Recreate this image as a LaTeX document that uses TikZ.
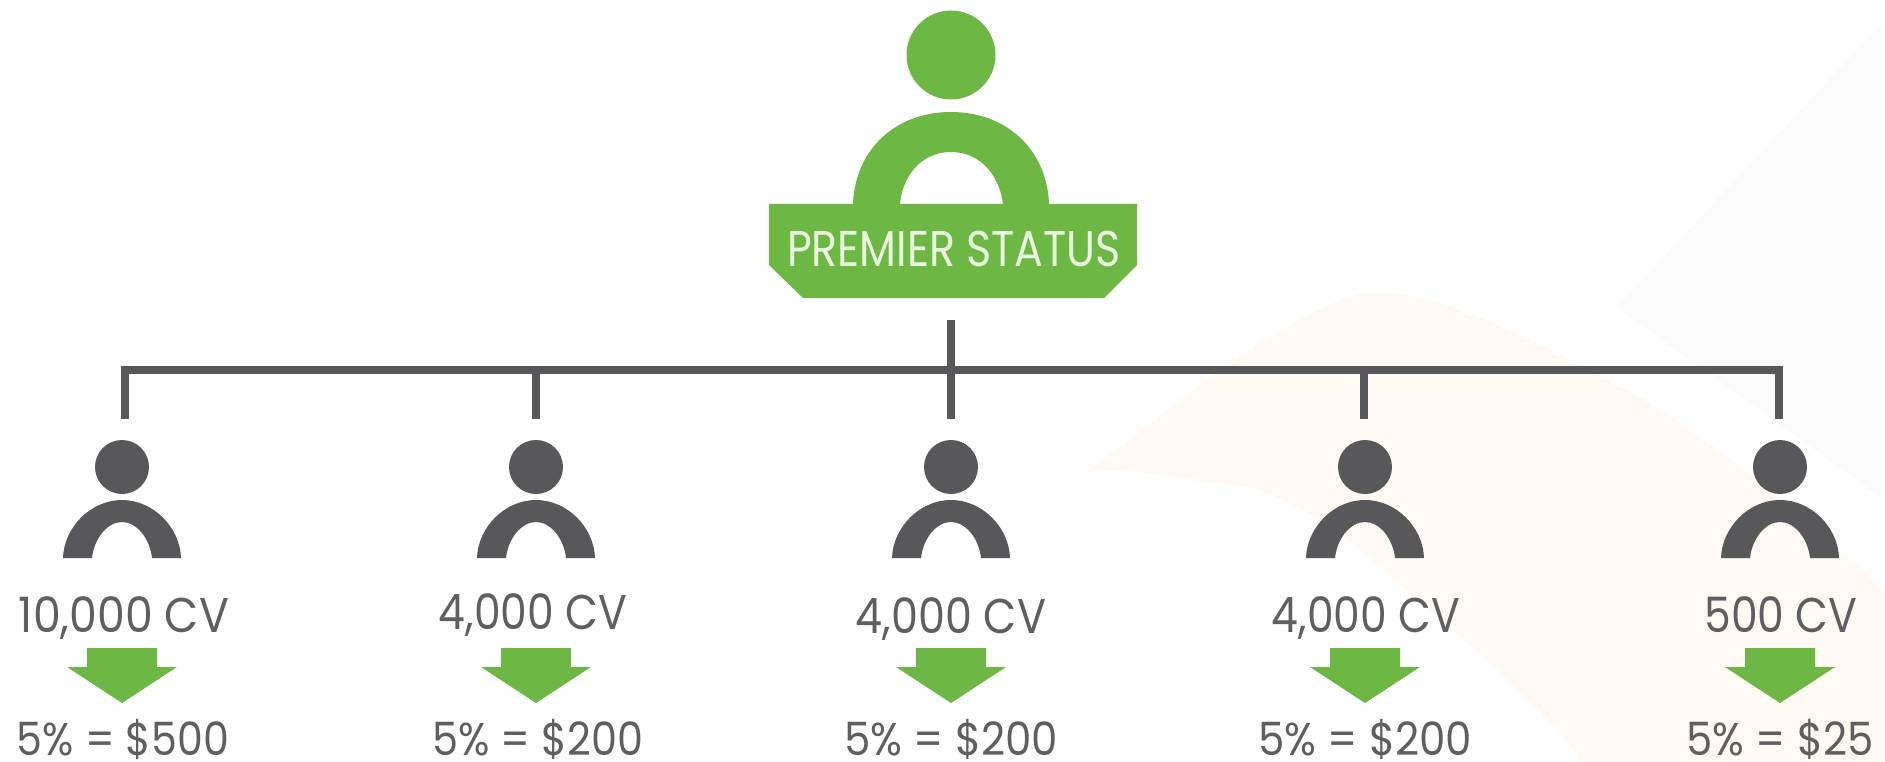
\documentclass[tikz,border=0pt]{standalone}
\usepackage{fontspec}
\newfontfamily\pf{Poppins}
\definecolor{gr}{HTML}{6DB845}
\definecolor{dk}{HTML}{58585A}
\definecolor{lab}{HTML}{5F5F61}
\definecolor{cream}{HTML}{FEF9F2}
\definecolor{pale}{HTML}{FBFBFC}
\definecolor{ptxt}{HTML}{E9F8DC}
\newlength\capH
\newcommand{\lbl}[3]{\settoheight{\capH}{\pf H}\resizebox{#1pt}{#2pt}{\raisebox{0pt}[\capH][0pt]{\pf #3}}}
\tikzset{
  x=1pt,y=-1pt,
  bus/.style={draw=dk,line width=7.5pt},
  head/.style={circle,fill=dk,minimum size=54pt,inner sep=0pt},
  txt/.style={inner sep=0pt,text=lab,anchor=base},
  person/.pic={
    \fill[dk] (-59,0) .. controls (-58,-31) and (-31,-58) .. (0,-58) .. controls (31,-58) and (58,-31) .. (59,0) -- (30,0) .. controls (28,-19) and (15,-36) .. (0,-36) .. controls (-15,-36) and (-28,-19) .. (-30,0) -- cycle;
  },
  downarrow/.pic={
    \fill[gr] (-35,-55) -- (35,-55) -- (35,-36) -- (55,-36) -- (0,0) -- (-55,-36) -- (-35,-36) -- cycle;
  }
}
\begin{document}
\begin{tikzpicture}
\useasboundingbox (0,0) rectangle (1885,762);
\fill[white] (0,0) rectangle (1885,762);
% background
\fill[pale] (1617,307) -- (1885,20) -- (1885,500) -- cycle;
\fill[cream] (1090,470) .. controls (1170,410) and (1280,315) .. (1361,294) .. controls (1430,285) and (1520,335) .. (1609,380) .. controls (1700,430) and (1800,510) .. (1885,593) -- (1885,762) -- (1582,762) .. controls (1540,700) and (1440,620) .. (1380,567) .. controls (1340,530) and (1270,480) .. (1210,483) .. controls (1170,475) and (1130,470) .. (1090,470) -- cycle;
% top figure
\node[circle,fill=gr,minimum size=89pt,inner sep=0pt] (tophead) at (951,55) {};
\fill[gr] (853,204) .. controls (855,150) and (895,112) .. (951,112) .. controls (1007,112) and (1047,150) .. (1049,204) -- (1003,204) .. controls (1000,178) and (982,152) .. (951,152) .. controls (920,152) and (902,178) .. (900,204) -- cycle;
\fill[gr] (769,204) -- (1137,204) -- (1137,265) -- (1104,298) -- (803,298) -- (769,265) -- cycle;
\node[inner sep=0pt,anchor=base,text=ptxt] (premier) at (954,267) {\lbl{334}{35}{PREMIER STATUS}};
% bus
\coordinate (stem) at (951,320);
\coordinate (busL) at (125,370);
\coordinate (busR) at (1779,370);
\coordinate (d1) at (125,419);
\coordinate (d2) at (536,419);
\coordinate (d3) at (951,419);
\coordinate (d4) at (1364,419);
\coordinate (d5) at (1779,419);
\draw[bus,line join=miter] (d1) -- (busL) -- (busR) -- (d5);
\draw[bus] (stem) -- (d3);
\draw[bus] (d2) -- (d2 |- busL);
\draw[bus] (d4) -- (d4 |- busL);
% persons
\foreach \n/\cx in {1/122,2/536,3/951,4/1365,5/1780}{
  \node[head] (h\n) at (\cx,467) {};
  \pic at (\cx,558) {person};
  \pic at (\cx,703) {downarrow};
}
% labels
\node[txt] (a1) at (124,632) {\lbl{210}{34}{10,000 CV}};
\node[txt] (a2) at (533,629) {\lbl{188}{34}{4,000 CV}};
\node[txt] (a3) at (951,633) {\lbl{190}{34}{4,000 CV}};
\node[txt] (a4) at (1366,632) {\lbl{188}{34}{4,000 CV}};
\node[txt] (a5) at (1781,632) {\lbl{153}{34}{500 CV}};
\node[txt] (b1) at (123,755) {\lbl{212}{32}{5\% = \$500}};
\node[txt] (b2) at (538,755) {\lbl{211}{32}{5\% = \$200}};
\node[txt] (b3) at (951,755) {\lbl{214}{32}{5\% = \$200}};
\node[txt] (b4) at (1365,755) {\lbl{214}{32}{5\% = \$200}};
\node[txt] (b5) at (1780,755) {\lbl{187}{32}{5\% = \$25}};
\end{tikzpicture}
\end{document}
